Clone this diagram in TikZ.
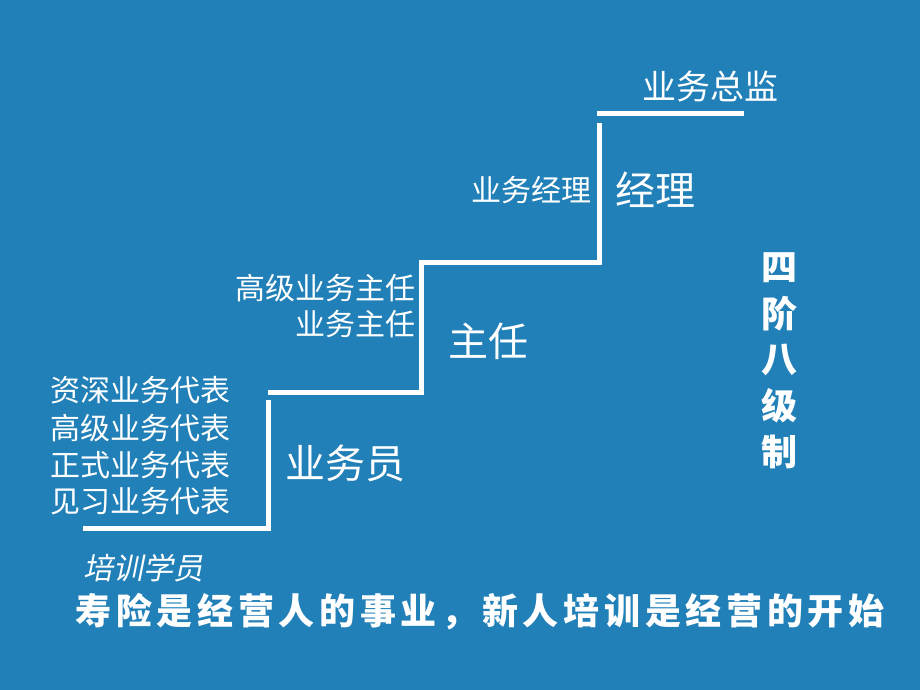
\documentclass[tikz,border=0pt]{standalone}
\usepackage{fontspec}
\usepackage{tikz}
\newfontfamily\cjk{Noto Sans CJK SC}
\newfontfamily\cjkit[FakeSlant=0.2]{Noto Sans CJK SC}
\newfontfamily\cjkwide[LetterSpace=13]{Noto Sans CJK SC}
\definecolor{bgblue}{RGB}{33,128,183}
\tikzset{stair/.style={draw=white, line width=5pt}}
\tikzset{rank/.style={text=white, inner sep=0pt, font=\cjk\fontsize{30}{36}\selectfont}}
\tikzset{level/.style={text=white, inner sep=0pt, font=\cjk\fontsize{40}{48}\selectfont}}
\tikzset{vchar/.style={text=white, inner sep=0pt, font=\cjk\bfseries\fontsize{36}{40}\selectfont}}

\begin{document}
\begin{tikzpicture}[x=1pt,y=-1pt]
        \fill[bgblue] (0,0) rectangle (920,690);
        \useasboundingbox (0,0) rectangle (920,690);

        % stairs
        \draw [stair] (83,528) -| (268,400);
        \draw [stair] (268,392) -| (421,262) -| (599,123);
        \draw [stair] (597,114) -- (744,114);

        % top
        \node [rank, font=\cjk\fontsize{34}{40}\selectfont](zongjian) at (710,87) {业务总监};
        \node [level](jingli) at (655,190) {经理};
        \node [rank, anchor=east](yewujingli) at (592,190) {业务经理};

        % middle
        \node [rank, anchor=east](gaojizhuren) at (416,288) {高级业务主任};
        \node [rank, anchor=east](yewuzhuren) at (416,324) {业务主任};
        \node [level](zhuren) at (488,341) {主任};

        % bottom
        \node [rank, anchor=west](zishen) at (50,390) {资深业务代表};
        \node [rank, anchor=west](gaoji) at (50,428) {高级业务代表};
        \node [rank, anchor=west](zhengshi) at (50,465) {正式业务代表};
        \node [rank, anchor=west](jianxi) at (50,501) {见习业务代表};
        \node [level](yewuyuan) at (345,463) {业务员};

        % side
        \foreach \ch [count=\i] in {四,阶,八,级,制}
            \node [vchar](jie\i) at (779,222+46*\i) {\ch};

        \node [rank, font=\cjkit\fontsize{30}{36}\selectfont](xueyuan) at (143,568) {培训学员};
        \node [rank, font=\cjkwide\bfseries\fontsize{36}{42}\selectfont](slogan) at (480,612) {寿险是经营人的事业，新人培训是经营的开始};
\end{tikzpicture}
\end{document}
